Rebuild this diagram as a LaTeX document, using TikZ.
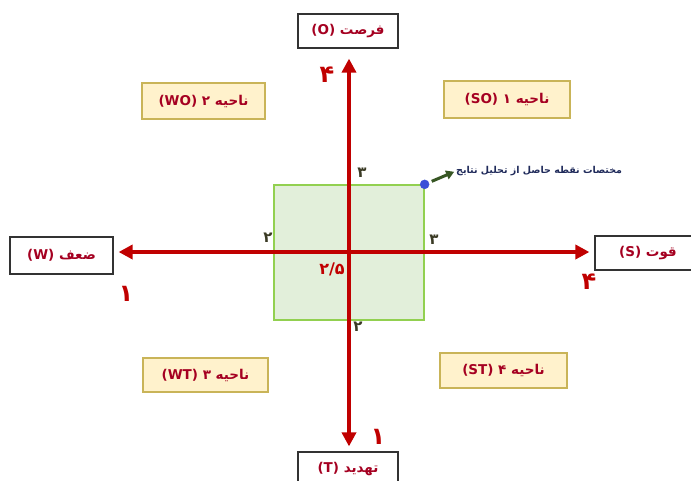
\documentclass[tikz,border=0pt]{standalone}
\usepackage{fontspec}
\newfontfamily\arabicfont[Script=Arabic]{DejaVu Sans}
\TeXXeTstate=1
\usetikzlibrary{arrows.meta}
\definecolor{axred}{HTML}{C00000}
\definecolor{txtred}{HTML}{A50021}
\definecolor{qfill}{HTML}{FFF2CC}
\definecolor{qdraw}{HTML}{C9B458}
\definecolor{gfill}{HTML}{E2EFDA}
\definecolor{gdraw}{HTML}{92D050}
\definecolor{notecol}{HTML}{1F2A5A}
\definecolor{arrgreen}{HTML}{375623}
\definecolor{smallnum}{HTML}{3A3A24}
\definecolor{dotblue}{HTML}{3A4FD8}
\tikzset{
  mainbox/.style={draw=black!80, line width=1.2pt, fill=white, inner sep=0pt,
    font=\arabicfont\bfseries\fontsize{13.5}{15}\selectfont, text=txtred},
  quadbox/.style={draw=qdraw, line width=1.2pt, fill=qfill, inner sep=0pt,
    font=\arabicfont\bfseries\fontsize{13.5}{15}\selectfont, text=txtred},
  greenbox/.style={draw=gdraw, line width=1.3pt, fill=gfill, inner sep=0pt},
  axis/.style={draw=axred, line width=3.8pt, -{Triangle[length=14pt,width=14pt]}},
  bignum/.style={font=\arabicfont\bfseries\fontsize{24}{26}\selectfont, text=axred, inner sep=0pt},
  smallnumber/.style={font=\arabicfont\bfseries\fontsize{15}{17}\selectfont, text=smallnum, inner sep=0pt},
  midnum/.style={font=\arabicfont\bfseries\fontsize{16}{18}\selectfont, text=axred, inner sep=0pt},
  notetext/.style={font=\arabicfont\bfseries\fontsize{9.5}{11}\selectfont, text=notecol, inner sep=0pt},
}
\begin{document}
\begin{tikzpicture}[x=1pt,y=-1pt]
\useasboundingbox (0,0) rectangle (691,480);
% green square
\node[greenbox, minimum width=150pt, minimum height=135pt] (sq) at (349,252.5) {};
% main boxes
\node[mainbox, minimum width=100pt, minimum height=34pt] (O) at (348,31) {\beginR فرصت \beginL(O)\endL\endR};
\node[mainbox, minimum width=103pt, minimum height=37pt] (W) at (61.5,255.5) {\beginR ضعف \beginL(W)\endL\endR};
\node[mainbox, minimum width=106pt, minimum height=34pt] (S) at (648,253) {\beginR قوت \beginL(S)\endL\endR};
\node[mainbox, minimum width=100pt, minimum height=36pt] (T) at (348,470) {\raisebox{6pt}{\beginR تهدید \beginL(T)\endL\endR}};
% quadrant boxes
\node[quadbox, minimum width=123pt, minimum height=36pt] (Q2) at (203.5,101) {\beginR ناحیه ۲ \beginL(WO)\endL\endR};
\node[quadbox, minimum width=126pt, minimum height=37pt] (Q1) at (507,99.5) {\beginR ناحیه ۱ \beginL(SO)\endL\endR};
\node[quadbox, minimum width=125pt, minimum height=34pt] (Q3) at (205.5,375) {\beginR ناحیه ۳ \beginL(WT)\endL\endR};
\node[quadbox, minimum width=127pt, minimum height=35pt] (Q4) at (503.5,370.5) {\beginR ناحیه ۴ \beginL(ST)\endL\endR};
% axes
\coordinate (c) at (349,252);
\draw[axis, shorten >=10pt] (c) -- (c |- O.south);
\draw[axis, shorten >=5pt] (c) -- (c |- T.north);
\draw[axis, shorten >=5pt] (c) -- (W.east |- c);
\draw[axis, shorten >=5pt] (c) -- (S.west |- c);
% numbers
\node[bignum] (n4t) at (327,75) {۴};
\node[bignum] (n1l) at (126,294) {۱};
\node[bignum] (n4r) at (589,282) {۴};
\node[bignum] (n1b) at (378,437) {۱};
\node[smallnumber] (s3t) at (362,173) {۳};
\node[smallnumber] (s2l) at (268,238) {۲};
\node[smallnumber] (s3r) at (434,240) {۳};
\node[smallnumber] (s2b) at (358,327) {۲};
\node[midnum] (n25) at (332,269) {۲/۵};
% point and note
\node[circle, fill=dotblue, draw=dotblue, inner sep=0pt, minimum size=9pt] (dot) at (sq.north east) {};
\node[notetext, anchor=west] (note) at (456,171) {\beginR مختصات نقطه حاصل از تحلیل نتایج\endR};
\draw[draw=arrgreen, line width=3pt, -{Triangle[length=8pt,width=9pt]}, shorten <=3pt, shorten >=2pt] (dot) -- (note.west);
\end{tikzpicture}
\end{document}
